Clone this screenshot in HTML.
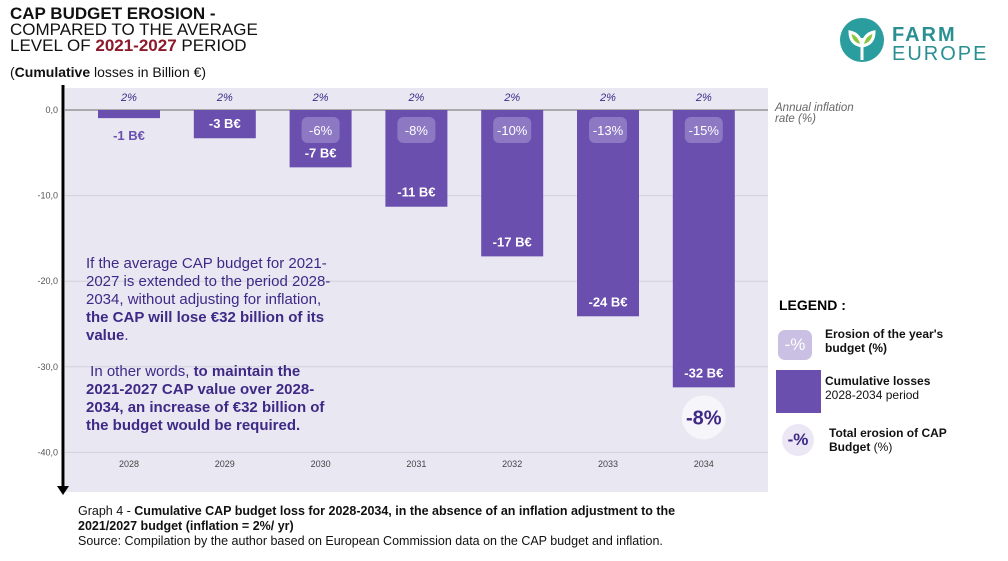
<!DOCTYPE html>
<html><head><meta charset="utf-8">
<style>
body{margin:0;width:1008px;height:561px;background:#fff;font-family:"Liberation Sans",sans-serif;overflow:hidden;position:relative}
.abs{position:absolute}
.t1{left:10px;top:6px;font-size:17px;line-height:16px;color:#111}
.leg{font-size:12px;font-weight:bold;color:#111;line-height:14px}
</style></head><body>
<div class="abs t1"><b>CAP BUDGET EROSION -</b><br>COMPARED TO THE AVERAGE<br>LEVEL OF <b style="color:#8b1a2b">2021-2027</b> PERIOD</div>
<div class="abs" style="left:10px;top:64px;font-size:14px;color:#111">(<b>Cumulative</b> losses in Billion €)</div>
<div class="abs" style="left:838px;top:16px;width:160px;height:50px">
<svg width="50" height="50"><circle cx="24" cy="24" r="22" fill="#2a9d9f"/><path d="M24 44V22M24 30q-12-2-12-14q10 2 12 14M24 30q12-2 12-14q-10 2-12 14" stroke="#fff" stroke-width="3" fill="#8cc63f"/></svg>
<div class="abs" style="left:54px;top:10px;font-size:20px;color:#2a8f92;letter-spacing:2px;line-height:19px;font-weight:bold">FARM<br><span style="font-weight:normal">EUROPE</span></div></div>
<svg class="abs" style="left:0;top:0" width="1008" height="561" id="chart"></svg>
<div class="abs" style="left:86px;top:255px;width:250px;font-size:15px;line-height:18px;color:#3e2a86">If the average CAP budget for 2021-2027 is extended to the period 2028-2034, without adjusting for inflation, <b>the CAP will lose €32 billion of its value</b>.<br><br>&nbsp;In other words, <b>to maintain the 2021-2027 CAP value over 2028-2034, an increase of €32 billion of the budget would be required.</b></div>
<div class="abs" style="left:775px;top:103px;font-size:11.5px;font-style:italic;color:#666;line-height:11px">Annual inflation<br>rate (%)</div>
<div class="abs" style="left:779px;top:297px;font-size:14px;font-weight:bold">LEGEND :</div>
<div class="abs" style="left:778px;top:330px;width:34px;height:30px;background:#c9c0e3;border-radius:7px;color:#fff;font-size:17px;text-align:center;line-height:30px">-%</div>
<div class="abs leg" style="left:825px;top:327px">Erosion of the year's<br>budget (%)</div>
<div class="abs" style="left:776px;top:370px;width:45px;height:43px;background:#6a4fae"></div>
<div class="abs leg" style="left:825px;top:374px">Cumulative losses<br><span style="font-weight:normal">2028-2034 period</span></div>
<div class="abs" style="left:782px;top:424px;width:32px;height:32px;border-radius:50%;background:#ebe7f5;color:#3e2a86;font-weight:bold;font-size:17px;text-align:center;line-height:32px">-%</div>
<div class="abs leg" style="left:829px;top:426px">Total erosion of CAP<br>Budget <span style="font-weight:normal">(%)</span></div>
<div class="abs" style="left:78px;top:504px;font-size:12.5px;line-height:15px;color:#111">Graph 4 - <b>Cumulative CAP budget loss for 2028-2034, in the absence of an inflation adjustment to the<br>2021/2027 budget (inflation = 2%/ yr)</b><br>Source: Compilation by the author based on European Commission data on the CAP budget and inflation.</div>
<script>
const years=["2028","2029","2030","2031","2032","2033","2034"];
const losses=[-0.95,-3.3,-6.7,-11.3,-17.1,-24.1,-32.4];
const lossLabels=["-1 B€","-3 B€","-7 B€","-11 B€","-17 B€","-24 B€","-32 B€"];
const yearPct=["","","-6%","-8%","-10%","-13%","-15%"];
const inflation=["2%","2%","2%","2%","2%","2%","2%"];
const yTicks=[0,-10,-20,-30,-40];
const totalErosion="-8%";
const NS="http://www.w3.org/2000/svg";
const svg=document.getElementById('chart');
const y=v=>110-v*8.56;
const x=i=>129+i*95.8;
function mk(t,a,txt){const e=document.createElementNS(NS,t);for(const k in a)e.setAttribute(k,a[k]);if(txt!==undefined)e.textContent=txt;svg.appendChild(e);return e;}
let e=mk('rect',{x:65,y:88,width:703,height:404,fill:'#e9e7f2'});

yTicks.forEach(t=>{
 let g=mk('line',{x1:65,x2:768,y1:y(t),y2:y(t),stroke:t===0?'#aaa':'#d2d0dc','stroke-width':t===0?2:1});
 
 let l=mk('text',{x:58,y:y(t)+3,'font-size':9,fill:'#555','text-anchor':'end'},t.toFixed(1).replace('.',','));
 
});
let ax=mk('line',{x1:63,x2:63,y1:85,y2:488,stroke:'#000','stroke-width':3});

let ar=mk('path',{d:'M57 486L63 495L69 486Z',fill:'#000'});

years.forEach((yr,i)=>{
 const cx=x(i),b=y(losses[i]);
 let r=mk('rect',{x:cx-31,y:110,width:62,height:b-110,fill:'#6a4fae'});
 
 let inf=mk('text',{x:cx,y:101,'font-size':11,'font-style':'italic',fill:'#3e2a86','text-anchor':'middle'},inflation[i]);
 
 let xl=mk('text',{x:cx,y:467,'font-size':9,fill:'#444','text-anchor':'middle'},yr);
 
 const inside=b-110>20;
 let lb=mk('text',{x:cx,y:inside?b-10:b+22,'font-size':13,'font-weight':'bold',fill:inside?'#fff':'#6a4fae','text-anchor':'middle'},lossLabels[i]);
 
 if(yearPct[i]){
  let p=mk('rect',{x:cx-19,y:117,width:38,height:26,rx:6,fill:'#8d78c4'});
  
  let pt=mk('text',{x:cx,y:135,'font-size':13,fill:'#fff','text-anchor':'middle'},yearPct[i]);
  
 }
});
const li=6;
let c=mk('circle',{cx:x(li),cy:y(losses[li])+30,r:22,fill:'#f6f5fa'});

let ct=mk('text',{x:x(li),y:y(losses[li])+37,'font-size':20,'font-weight':'bold',fill:'#3e2a86','text-anchor':'middle'},totalErosion);

</script>
</body></html>
